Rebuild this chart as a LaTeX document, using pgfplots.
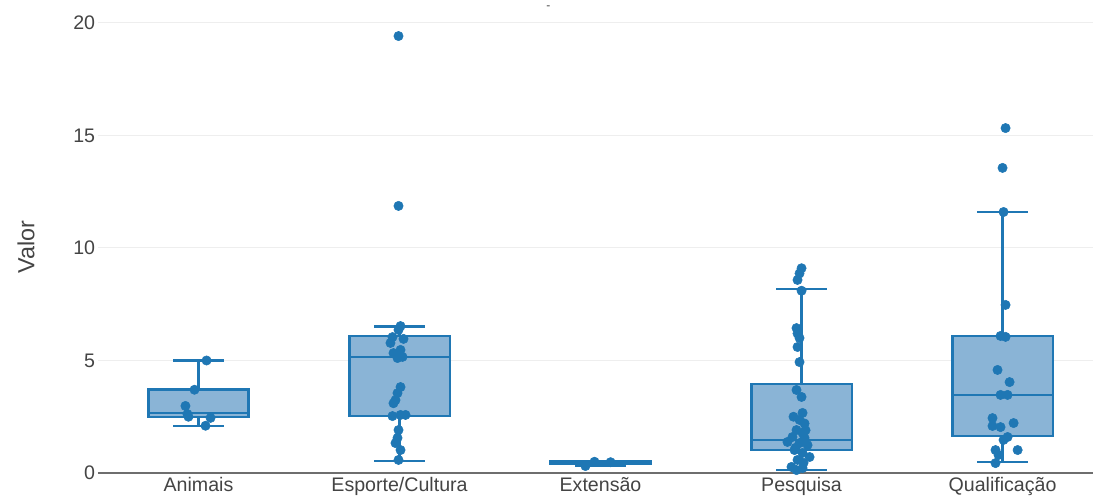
\documentclass[border=0pt]{standalone}
\usepackage{pgfplots}
\pgfplotsset{compat=1.18}
\usepgfplotslibrary{statistics}
\usepackage{fontspec}
\setmainfont{Liberation Sans}
\definecolor{pblue}{HTML}{1F77B4}
\definecolor{pfill}{HTML}{8AB4D6}
\definecolor{txt}{HTML}{444444}
\definecolor{gridc}{HTML}{EEEEEE}
\definecolor{zeroc}{HTML}{6E6E6E}
\begin{document}
\begin{tikzpicture}
\begin{axis}[name=ax, scale only axis, width=746.25pt, height=354.375pt,
  xmin=-0.5, xmax=4.45, ymin=0, ymax=21, clip=false,
  axis line style={draw=none},
  xtick={0,1,2,3,4},
  xticklabels={Animais,Esporte/Cultura,Extensão,Pesquisa,Qualificação},
  ytick={0,5,10,15,20},
  ymajorgrids, grid style={gridc, line width=0.75pt},
  major tick length=0pt,
  tick label style={font=\fontsize{14.7}{17}\selectfont, text=txt},
  yticklabel style={inner xsep=2pt},
  xticklabel style={inner ysep=3pt},
  /pgf/number format/assume math mode=true,
  boxplot/draw direction=y,
  boxplot/box extend=0.5, boxplot/whisker extend=0.25,
]
\draw[zeroc, line width=1.5pt] (rel axis cs:0,0) -- (rel axis cs:1,0);

\addplot+[boxplot prepared={lower whisker=2.09, lower quartile=2.49, median=2.67, upper quartile=3.72, upper whisker=5.0, draw position=0},
  draw=pblue, fill=pfill, line width=1.9pt, mark=none, solid] coordinates {};
\addplot+[boxplot prepared={lower whisker=0.53, lower quartile=2.53, median=5.16, upper quartile=6.09, upper whisker=6.5, draw position=1},
  draw=pblue, fill=pfill, line width=1.9pt, mark=none, solid] coordinates {};
\addplot+[boxplot prepared={lower whisker=0.31, lower quartile=0.40, median=0.45, upper quartile=0.50, upper whisker=0.53, draw position=2},
  draw=pblue, fill=pfill, line width=1.9pt, mark=none, solid] coordinates {};
\addplot+[boxplot prepared={lower whisker=0.13, lower quartile=1.02, median=1.47, upper quartile=3.96, upper whisker=8.18, draw position=3},
  draw=pblue, fill=pfill, line width=1.9pt, mark=none, solid] coordinates {};
\addplot+[boxplot prepared={lower whisker=0.49, lower quartile=1.64, median=3.47, upper quartile=6.09, upper whisker=11.6, draw position=4},
  draw=pblue, fill=pfill, line width=1.9pt, mark=none, solid] coordinates {};

% Animais
\addplot[only marks, mark=*, mark size=3.5pt, color=pblue] coordinates {
(0.04,5.0) (-0.02,3.7) (-0.065,2.98) (-0.055,2.62) (-0.05,2.5) (0.06,2.45) (0.035,2.1)
};
% Esporte/Cultura
\addplot[only marks, mark=*, mark size=3.5pt, color=pblue] coordinates {
(0.995,19.42) (0.995,11.87)
(1.005,6.53) (0.995,6.36) (0.965,6.04) (1.02,5.96) (0.955,5.78) (1.005,5.47) (0.97,5.33)
(1.015,5.16) (0.99,5.11) (1.005,3.82) (0.99,3.55) (0.98,3.24) (0.97,3.1) (0.965,2.53)
(1.005,2.58) (1.03,2.58) (0.995,1.91) (0.99,1.56) (0.98,1.33) (1.005,1.02) (0.995,0.58)
};
% Extensao
\addplot[only marks, mark=*, mark size=3.5pt, color=pblue] coordinates {
(1.925,0.31) (1.97,0.5) (2.05,0.48)
};
% Pesquisa
\addplot[only marks, mark=*, mark size=3.5pt, color=pblue] coordinates {
(3.0,9.1) (2.99,8.87) (2.98,8.58) (3.0,8.1) (2.975,6.44) (2.98,6.2) (2.99,6.0) (2.98,5.6)
(2.99,4.93) (2.975,3.69) (3.0,3.38) (3.005,2.67) (2.99,2.36) (3.015,2.2) (2.975,1.91)
(3.005,1.78) (2.955,1.6) (3.015,1.56) (2.93,1.38) (2.99,1.33) (3.03,1.24) (2.965,1.02)
(3.005,0.89) (3.04,0.71) (2.98,0.58) (2.95,0.27) (3.005,0.22) (2.975,0.13)
(2.97,1.12) (3.02,1.9) (2.96,2.5) (3.01,0.45)
};
% Qualificacao
\addplot[only marks, mark=*, mark size=3.5pt, color=pblue] coordinates {
(4.015,15.33) (4.0,13.56) (4.005,11.6) (4.015,7.47) (3.99,6.09) (4.015,6.05) (3.975,4.58)
(4.035,4.04) (3.99,3.47) (4.025,3.47) (3.95,2.44) (4.055,2.22) (3.95,2.09) (3.99,2.04)
(4.025,1.6) (4.005,1.47) (3.965,1.02) (4.075,1.02) (3.98,0.8) (3.965,0.44)
};
\node[text=txt, font=\fontsize{9}{9}\selectfont, inner sep=0pt] at (axis cs:1.74,20.7) {-};
\end{axis}
\node[rotate=90, text=txt, font=\fontsize{17.5}{20}\selectfont] at ([xshift=-54pt,yshift=-7.5pt]ax.west) {Valor};
\pgfresetboundingbox
\path ([xshift=-73.5pt,yshift=-20.25pt]ax.south west) rectangle ([yshift=0.375pt]ax.north east);
\end{tikzpicture}
\end{document}
